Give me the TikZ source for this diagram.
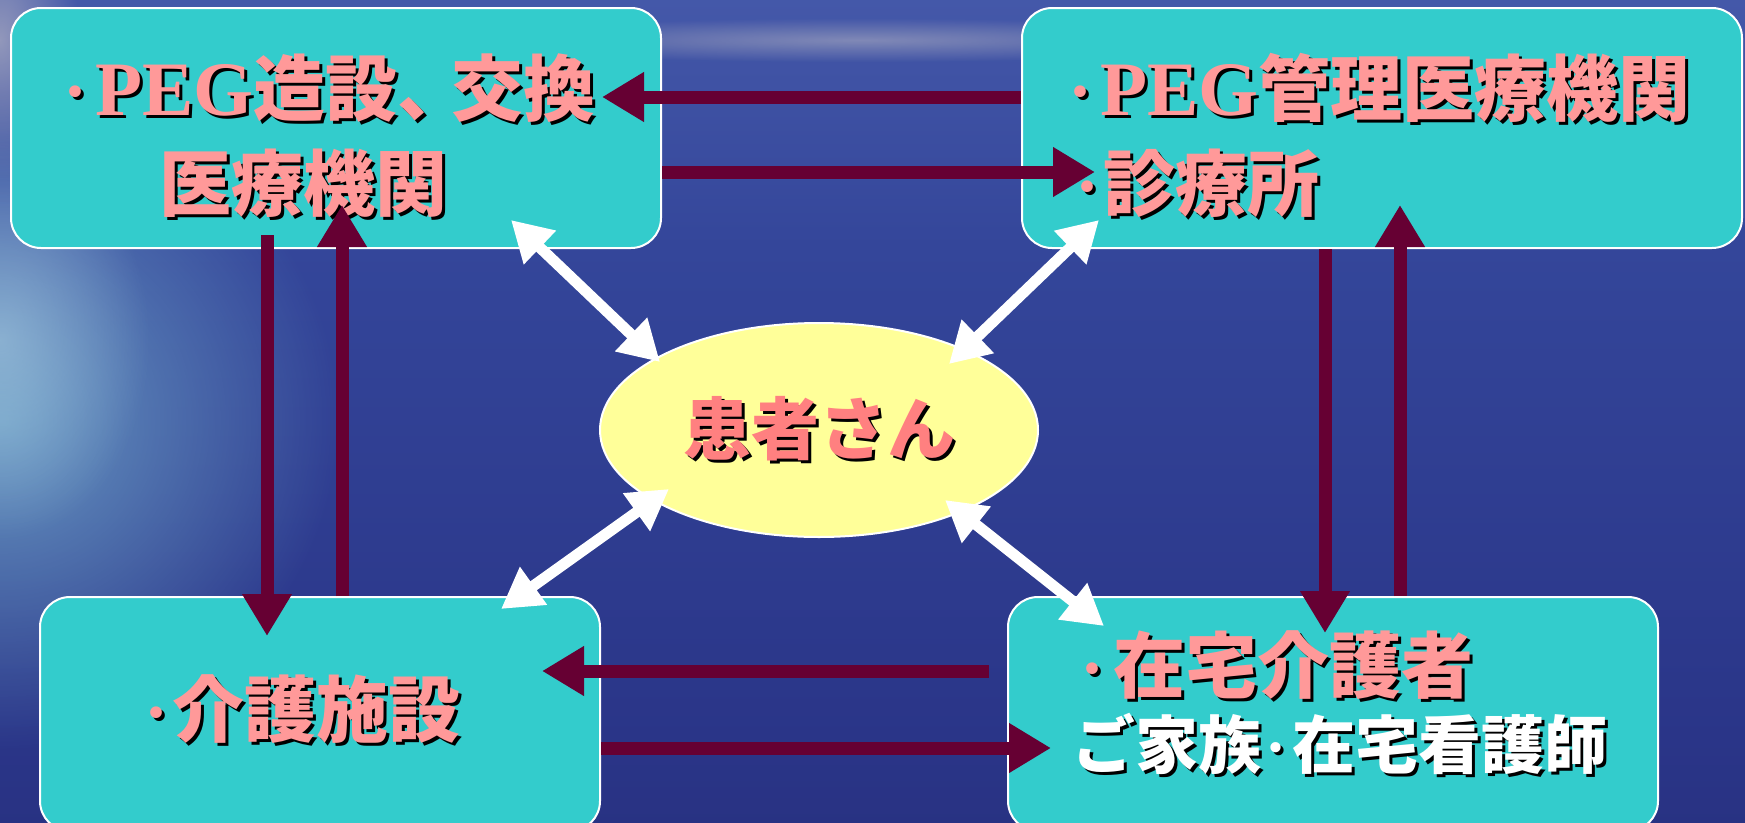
\documentclass[tikz,border=0pt]{standalone}
\usepackage{fontspec}
\setmainfont{Liberation Serif}
\newfontfamily\jp{Noto Sans CJK JP}
\usetikzlibrary{arrows.meta,calc,fadings,shapes.geometric}
\definecolor{boxcyan}{HTML}{33CCCC}
\definecolor{arrred}{HTML}{660033}
\definecolor{pinktx}{HTML}{FF9999}
\definecolor{pinkpt}{HTML}{FF8080}
\definecolor{ellfill}{HTML}{FFFF99}
\definecolor{bgtop}{HTML}{6C7CC4}
\definecolor{bgupper}{HTML}{4A5EAE}
\definecolor{bgmid}{HTML}{34469A}
\definecolor{bglow}{HTML}{2A3588}
\definecolor{bgbot}{HTML}{20256A}
\definecolor{glow}{HTML}{7CB8D4}
\definecolor{horizon}{HTML}{B4B4C4}
\pgfdeclareverticalshading{oceansh}{100bp}{color(0bp)=(bgbot); color(30bp)=(bglow); color(60bp)=(bgmid); color(80bp)=(bgupper); color(92bp)=(bgupper); color(100bp)=(bgtop)}
\tikzfading[name=softdisc, inner color=transparent!0, outer color=transparent!100]
\newcommand\shd[1]{\leavevmode\rlap{\kern3pt\raisebox{-3pt}{\color{black}#1}}#1}
\newcommand\dotc{{\rmfamily\bfseries ·}}
\begin{document}
\begin{tikzpicture}[x=1pt,y=-1pt,
  box/.style={draw=white, line width=2pt, fill=boxcyan, rounded corners=30pt, inner sep=0pt},
  txt/.style={inner sep=0pt, text=pinktx, font=\jp\bfseries\fontsize{72}{72}\selectfont},
  rarr/.style={draw=arrred, line width=13pt, -{Triangle[width=47pt,length=42pt]}},
  warr/.style={draw=white, line width=11pt, {Triangle[width=44pt,length=40pt]}-{Triangle[width=44pt,length=40pt]}}]
\useasboundingbox (0,0) rectangle (1745,822);
% background
\shade[shading=oceansh] (0,0) rectangle (1745,822);
\fill[horizon, opacity=0.55, path fading=softdisc] (860,40) ellipse (420pt and 22pt);
\fill[glow, opacity=0.75, path fading=softdisc] (0,420) ellipse (340pt and 330pt);
\fill[glow!60!white, opacity=0.55, path fading=softdisc] (0,340) ellipse (150pt and 200pt);
\fill[horizon, opacity=0.7, path fading=softdisc] (0,40) ellipse (80pt and 140pt);
% boxes
\node[box, minimum width=650pt, minimum height=240pt] (tl) at (336,128) {};
\node[box, minimum width=720pt, minimum height=240pt] (tr) at (1382,128) {};
\node[box, minimum width=560pt, minimum height=234pt] (bl) at (320,714) {};
\node[box, minimum width=650pt, minimum height=234pt] (br) at (1333,714) {};
\node[ellipse, draw=white, line width=2pt, fill=ellfill, minimum width=438pt, minimum height=214pt, inner sep=0pt] (pt) at (819,430) {};
% texts
\node[txt, anchor=base west] (tl1) at (63,115) {\shd{\dotc\kern8pt{\rmfamily\fontsize{77}{77}\selectfont PEG}造設、\kern-18pt 交換}};
\node[txt, anchor=base west] (tl2) at (159,210) {\shd{医療機関}};
\node[txt, anchor=base west] (tr1) at (1068,115) {\shd{\dotc\kern8pt{\rmfamily\fontsize{77}{77}\selectfont PEG}管理医療機関}};
\node[txt, anchor=base west] (tr2) at (1075,210) {\shd{\dotc\kern4pt 診療所}};
\node[txt, text=pinkpt, font=\jp\bfseries\fontsize{68}{68}\selectfont] (ptx) at (pt.center) {\shd{患者さん}};
\node[txt, anchor=base west] (blx) at (144,736) {\shd{\dotc\kern4pt 介護施設}};
\node[txt, anchor=base west] (br1) at (1080,692) {\shd{\dotc\kern9pt 在宅介護者}};
\node[txt, anchor=base west, text=white, font=\jp\bfseries\fontsize{63}{63}\selectfont] (br2) at (1072,768) {\shd{ご家族\kern4pt\dotc\kern6pt 在宅看護師}};
% red arrows
\draw[rarr] (tr.west |- 0,97) -- ($(tl.east |- 0,97)+(-60,0)$);
\draw[rarr] (tl.east |- 0,172) -- ($(tr.west |- 0,172)+(74,0)$);
\draw[rarr] ($(tl.south -| 267,0)+(0,-14)$) -- ($(bl.north -| 267,0)+(0,40)$);
\draw[rarr] (bl.north -| 342,0) -- ($(tl.south -| 342,0)+(0,-44)$);
\draw[rarr] (tr.south -| 1325,0) -- ($(br.north -| 1325,0)+(0,37)$);
\draw[rarr] (br.north -| 1400,0) -- ($(tr.south -| 1400,0)+(0,-44)$);
\draw[rarr] ($(br.west |- 0,671)+(-18,0)$) -- ($(bl.east |- 0,671)+(-59,0)$);
\draw[rarr] (bl.east |- 0,748) -- ($(br.west |- 0,748)+(44,0)$);
% white arrows
\draw[warr] ($(tl.south east)+(-151,-29)$) -- ($(pt.center)+(-159,-68)$);
\draw[warr] ($(tr.south west)+(78,-29)$) -- ($(pt.center)+(130,-66)$);
\draw[warr] ($(bl.north east)+(-100,13)$) -- ($(pt.center)+(-150,59)$);
\draw[warr] ($(br.north west)+(97,30)$) -- ($(pt.center)+(126,70)$);
\end{tikzpicture}
\end{document}
